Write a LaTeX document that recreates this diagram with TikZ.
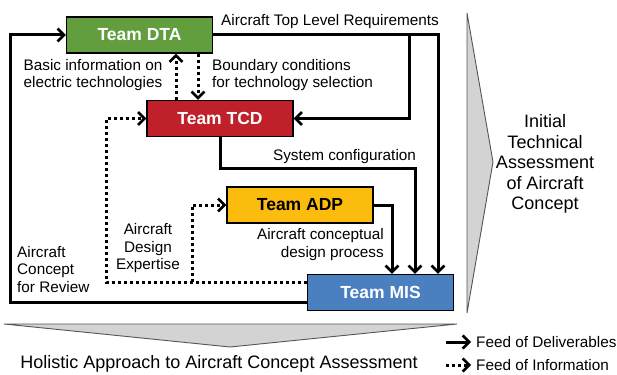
\documentclass[tikz,border=0pt]{standalone}
\usepackage{fontspec}
\setmainfont{Liberation Sans}
\usetikzlibrary{arrows.meta}
\definecolor{dtagreen}{HTML}{629E3E}
\definecolor{tcdred}{HTML}{C0202A}
\definecolor{adpyellow}{HTML}{FBBC0E}
\definecolor{misblue}{HTML}{4A7FC0}
\definecolor{chevgray}{HTML}{D3D3D3}
\definecolor{chevline}{HTML}{555555}
\tikzset{
  teambox/.style={draw=black, line width=1.2pt, minimum width=146pt, minimum height=36pt, inner sep=0pt,
    font=\fontsize{17.5}{20}\selectfont\bfseries},
  lbl/.style={inner sep=0pt, font=\fontsize{15.3}{17.5}\selectfont},
  feed/.style={line width=3pt, -{Straight Barb[length=6.5pt,width=13pt,line width=2.6pt]}},
  info/.style={line width=3pt, dash pattern=on 3pt off 3pt, -{Straight Barb[length=6.5pt,width=13pt,line width=2.6pt]}},
  chev/.style={fill=chevgray, draw=chevline, line width=0.9pt}
}
\begin{document}
\begin{tikzpicture}[x=1pt,y=-1pt]
\useasboundingbox (0,0) rectangle (617,374);
% chevrons
\filldraw[chev] (467,13) -- (493,162) -- (467,313) -- cycle;
\filldraw[chev] (4,324) -- (457,324) -- (230,347) -- cycle;
% boxes
\node[teambox, fill=dtagreen, text=white] (dta) at (139.5,35) {Team DTA};
\node[teambox, fill=tcdred, text=white] (tcd) at (220,118.5) {Team TCD};
\node[teambox, fill=adpyellow, text=black] (adp) at (300,205) {Team ADP};
\node[teambox, fill=misblue, text=white] (mis) at (380.5,292.5) {Team MIS};
% coordinates
\coordinate (r1) at (438,35);
\coordinate (b1) at (409,35);
\coordinate (c3) at (415,168);
\coordinate (c4) at (392,205);
\coordinate (c5) at (10,302);
\coordinate (d1) at (176,0);
\coordinate (d2) at (198,0);
\coordinate (d3) at (106,282);
\coordinate (d4) at (192,282);
% solid connectors
\draw[feed] (dta.east) -- (r1) -- (r1 |- mis.north);
\draw[feed] (b1) |- (tcd.east);
\draw[feed] (tcd.south) |- (c3) -- (c3 |- mis.north);
\draw[feed] (adp.east) -- (c4) -- (c4 |- mis.north);
\draw[feed] (mis.west |- c5) -- (c5) |- (dta.west);
% dotted connectors
\draw[info] (tcd.north -| d1) -- (dta.south -| d1);
\draw[info] (dta.south -| d2) -- (tcd.north -| d2);
\draw[info] (mis.west |- d3) -- (d3) |- (tcd.west);
\draw[info] (d4) |- (adp.west);
% labels
\node[lbl] (t1) at (330,22) {Aircraft Top Level Requirements};
\node[lbl, align=center] (t2) at (93,75) {Basic information on\\electric technologies};
\node[lbl, align=left, anchor=west] (t3) at (212,75) {Boundary conditions\\for technology selection};
\node[lbl] (t4) at (344.5,157) {System configuration};
\node[lbl, align=right, anchor=east] (t5) at (384,244.5) {Aircraft conceptual\\design process};
\node[lbl, align=center] (t6) at (148,248.5) {Aircraft\\Design\\Expertise};
\node[lbl, align=left, anchor=west] (t7) at (17,269.5) {Aircraft\\Concept\\for Review};
\node[inner sep=0pt, align=center, font=\fontsize{18}{20.5}\selectfont] (t8) at (545,164) {Initial\\Technical\\Assessment\\of Aircraft\\Concept};
\node[inner sep=0pt, font=\fontsize{18}{20.5}\selectfont] (t9) at (219,364) {Holistic Approach to Aircraft Concept Assessment};
% legend
\coordinate (l1) at (446,342);
\coordinate (l2) at (471,342);
\coordinate (l3) at (446,365);
\coordinate (l4) at (471,365);
\draw[feed] (l1) -- (l2);
\draw[info] (l3) -- (l4);
\node[lbl, anchor=west] (lg1) at (476,342) {Feed of Deliverables};
\node[lbl, anchor=west] (lg2) at (476,365) {Feed of Information};
\end{tikzpicture}
\end{document}
